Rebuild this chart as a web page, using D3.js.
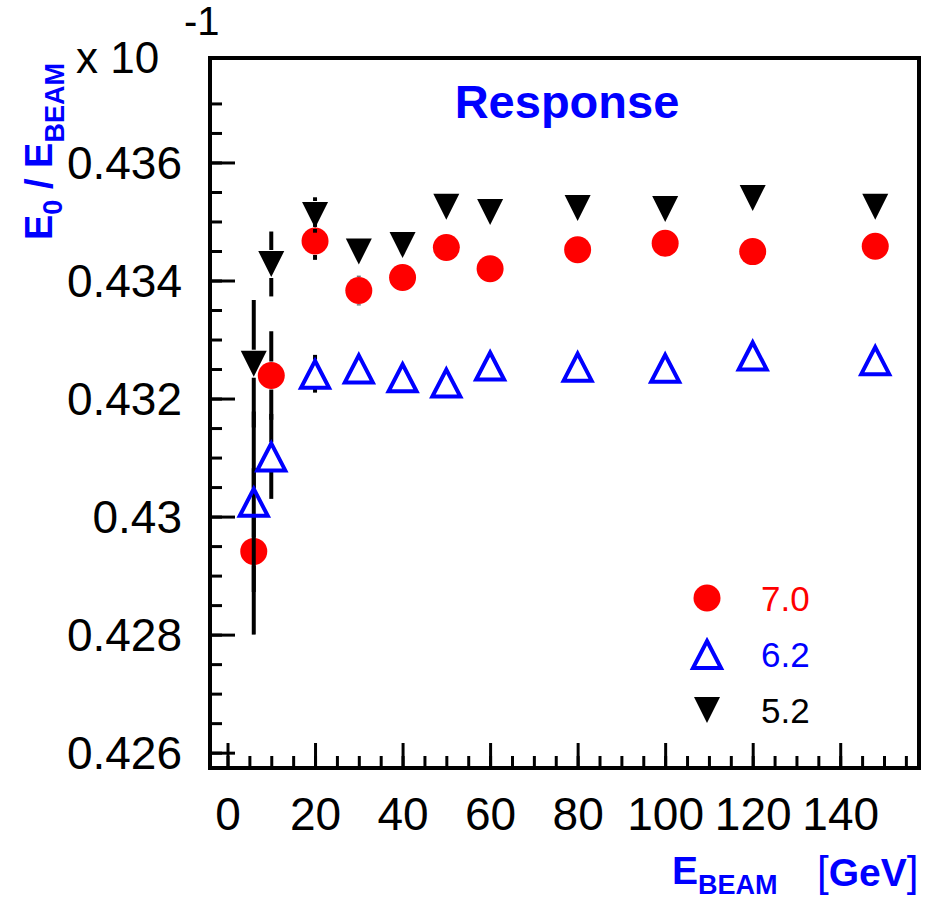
<!DOCTYPE html>
<html>
<head>
<meta charset="utf-8">
<script src="https://cdn.jsdelivr.net/npm/d3@7"></script>
<style>
  body { margin: 0; background: #fff; }
  svg { display: block; font-family: "Liberation Sans", Arial, sans-serif; }
</style>
</head>
<body>
<svg id="chart" width="937" height="899"></svg>
<script>
// Beam energies (GeV)
const energies = [6, 10, 20, 30, 40, 50, 60, 80, 100, 120, 148];

// Response E0/EBEAM for three settings
const resp70 = [0.42941, 0.43239, 0.43467, 0.43383, 0.43405, 0.43456, 0.43420, 0.43452, 0.43463, 0.43449, 0.43458];
const err70  = [0.00141, 0.00075, 0.00032, 0.00025, 0.00015, 0.00015, 0.00015, 0.00015, 0.00015, 0.00015, 0.00015];
const resp62 = [0.43025, 0.43102, 0.43242, 0.43251, 0.43236, 0.43227, 0.43256, 0.43254, 0.43252, 0.43273, 0.43265];
const err62  = [0.00153, 0.00072, 0.00032, 0.00020, 0.00015, 0.00015, 0.00015, 0.00015, 0.00015, 0.00015, 0.00015];
const resp52 = [0.43259, 0.43428, 0.43511, 0.43449, 0.43460, 0.43525, 0.43516, 0.43523, 0.43521, 0.43540, 0.43525];
const err52  = [0.00108, 0.00055, 0.00030, 0.00023, 0.00015, 0.00015, 0.00015, 0.00015, 0.00015, 0.00015, 0.00015];

const seriesNames = ["7.0", "6.2", "5.2"];

// Axis ticks
const xTickLabels = [0, 20, 40, 60, 80, 100, 120, 140];
const xMinorTicks = d3.range(0, 160, 5);
const yTickLabels = [0.426, 0.428, 0.43, 0.432, 0.434, 0.436];
const yMinorTicks = d3.range(0, 24).map(i => +(0.4255 + i * 0.0005).toFixed(4));

const svg = d3.select("#chart");

// Frame
const frame = { left: 210, right: 919, top: 58, bottom: 768 };

const x = d3.scaleLinear().domain([-4, 158]).range([frame.left, frame.right]);
const y = d3.scaleLinear().domain([0.42574, 0.43777]).range([frame.bottom, frame.top]);

const series = [
    { name: seriesNames[0], vals: resp70, errs: err70, color: "#ff0000", shape: "circle" },
    { name: seriesNames[1], vals: resp62, errs: err62, color: "#0000ff", shape: "tri-up" },
    { name: seriesNames[2], vals: resp52, errs: err52, color: "#000000", shape: "tri-down" },
];

// Minor ticks
svg.append("g")
    .attr("transform", `translate(0,${frame.bottom})`)
    .call(d3.axisBottom(x).tickValues(xMinorTicks).tickSize(-12).tickFormat(""))
    .call(g => g.select(".domain").remove())
    .call(g => g.selectAll("line").attr("stroke-width", 3));

svg.append("g")
    .attr("transform", `translate(${frame.left},0)`)
    .call(d3.axisLeft(y).tickValues(yMinorTicks.filter(v => v >= 0.42574 && v <= 0.43777)).tickSize(-12).tickFormat(""))
    .call(g => g.select(".domain").remove())
    .call(g => g.selectAll("line").attr("stroke-width", 3));

// Major ticks + labels
svg.append("g")
    .attr("transform", `translate(0,${frame.bottom})`)
    .call(d3.axisBottom(x).tickValues(xTickLabels).tickSize(-25).tickPadding(29).tickFormat(d => d))
    .call(g => g.select(".domain").remove())
    .call(g => g.selectAll("line").attr("stroke-width", 3))
    .call(g => g.selectAll("text").attr("font-size", 46).attr("font-family", "Liberation Sans, Arial, sans-serif").attr("fill", "#000"));

svg.append("g")
    .attr("transform", `translate(${frame.left},0)`)
    .call(d3.axisLeft(y).tickValues(yTickLabels).tickSize(-25).tickPadding(28).tickFormat(d => d3.format("")(d)))
    .call(g => g.select(".domain").remove())
    .call(g => g.selectAll("line").attr("stroke-width", 3))
    .call(g => g.selectAll("text").attr("font-size", 46).attr("dy", "0.34em").attr("font-family", "Liberation Sans, Arial, sans-serif").attr("fill", "#000"));

// Frame box
svg.append("rect")
    .attr("x", frame.left).attr("y", frame.top)
    .attr("width", frame.right - frame.left).attr("height", frame.bottom - frame.top)
    .attr("fill", "none").attr("stroke", "#000").attr("stroke-width", 4);

// Marker drawing
function drawMarker(g, shape, color, cx, cy) {
    if (shape === "circle") {
        g.append("circle").attr("cx", cx).attr("cy", cy).attr("r", 13.5).attr("fill", color);
    } else if (shape === "tri-up") {
        const p = d3.path();
        p.moveTo(cx, cy - 13);
        p.lineTo(cx + 14, cy + 14);
        p.lineTo(cx - 14, cy + 14);
        p.closePath();
        g.append("path").attr("d", p.toString()).attr("fill", "none")
            .attr("stroke", color).attr("stroke-width", 4).attr("stroke-linejoin", "miter");
    } else {
        const p = d3.path();
        p.moveTo(cx - 13, cy - 13);
        p.lineTo(cx + 13, cy - 13);
        p.lineTo(cx, cy + 13);
        p.closePath();
        g.append("path").attr("d", p.toString()).attr("fill", color);
    }
}

// Data: error bars (outside the marker) then markers, per series
const half = 14;
const plot = svg.append("g");
series.forEach(s => {
    const g = plot.append("g");
    energies.forEach((e, i) => {
        const cy = y(s.vals[i]);
        const top = y(s.vals[i] + s.errs[i]);
        const bot = y(s.vals[i] - s.errs[i]);
        if (top < cy - half) {
            g.append("line")
                .attr("x1", x(e)).attr("x2", x(e))
                .attr("y1", top).attr("y2", cy - half)
                .attr("stroke", "#000").attr("stroke-width", 4);
        }
        if (bot > cy + half) {
            g.append("line")
                .attr("x1", x(e)).attr("x2", x(e))
                .attr("y1", cy + half).attr("y2", bot)
                .attr("stroke", "#000").attr("stroke-width", 4);
        }
    });
    energies.forEach((e, i) => drawMarker(g, s.shape, s.color, x(e), y(s.vals[i])));
});

// Legend
const legend = svg.append("g");
series.forEach((s, i) => {
    const ly = 598 + i * 56;
    drawMarker(legend, s.shape, s.color, 707, ly);
    legend.append("text")
        .attr("x", 761).attr("y", ly + 13)
        .attr("font-size", 35)
        .attr("fill", s.color)
        .text(s.name);
});

// Title
svg.append("text")
    .attr("x", 567).attr("y", 118)
    .attr("text-anchor", "middle")
    .attr("font-size", 47).attr("font-weight", "bold")
    .attr("fill", "#0000ff")
    .text("Response");

// Exponent label
svg.append("text").attr("x", 76).attr("y", 73).attr("font-size", 44).text("x 10");
svg.append("text").attr("x", 184).attr("y", 35).attr("font-size", 40).text("-1");

// Y title (rotated)
const yt = svg.append("text")
    .attr("transform", "translate(52,240) rotate(-90)")
    .attr("font-weight", "bold").attr("fill", "#0000ff");
yt.append("tspan").attr("font-size", 38).text("E");
yt.append("tspan").attr("font-size", 27).attr("dy", 10).text("0");
yt.append("tspan").attr("font-size", 38).attr("dy", -10).text(" / E");
yt.append("tspan").attr("font-size", 27).attr("dy", 12).text("BEAM");

// X title
const xt = svg.append("text")
    .attr("x", 672).attr("y", 884)
    .attr("font-weight", "bold").attr("fill", "#0000ff");
xt.append("tspan").attr("font-size", 39).text("E");
xt.append("tspan").attr("font-size", 27).attr("dy", 10).text("BEAM");

const xu = svg.append("text").attr("x", 817).attr("y", 886).attr("fill", "#0000ff");
xu.append("tspan").attr("font-size", 42).text("[");
xu.append("tspan").attr("font-size", 39).attr("font-weight", "bold").text("GeV");
xu.append("tspan").attr("font-size", 42).text("]");
</script>
</body>
</html>
